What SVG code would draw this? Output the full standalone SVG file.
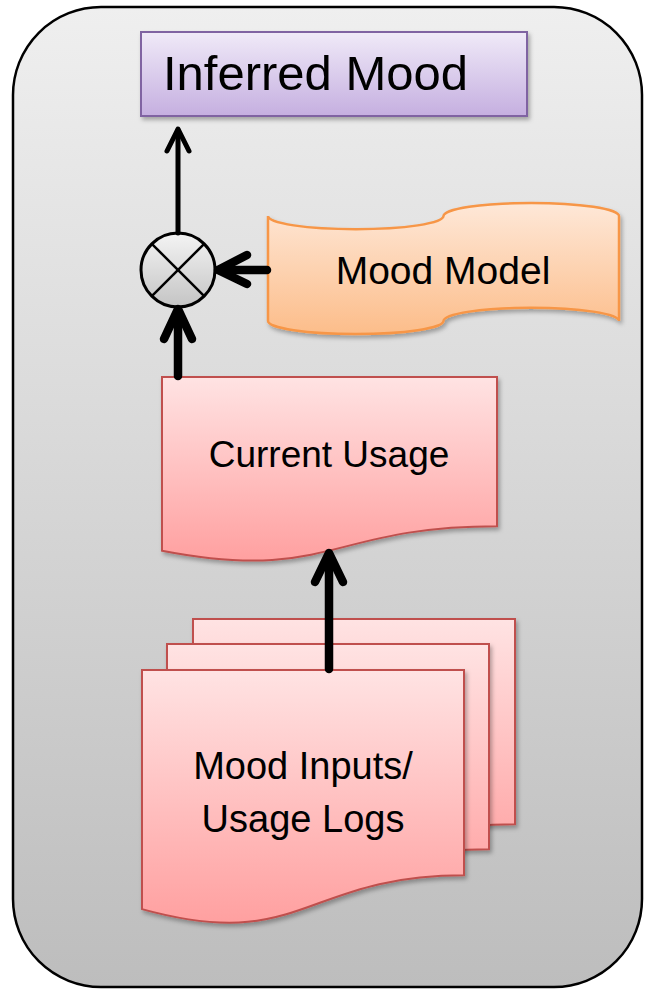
<svg xmlns="http://www.w3.org/2000/svg" width="654" height="990" viewBox="0 0 654 990">
  <style>
    .lbl { font-family: "Liberation Sans", Arial, sans-serif; fill: #000; }
    .doc { fill: url(#gPink); stroke: #c0504d; stroke-width: 2; }
    .thin { stroke: #000; stroke-width: 5; fill: none; stroke-linecap: round; stroke-linejoin: round; }
    .thick { stroke: #000; stroke-width: 8.5; fill: none; stroke-linecap: round; stroke-linejoin: round; }
  </style>
  <defs>
    <linearGradient id="gBg" x1="0" y1="0" x2="0" y2="1">
      <stop offset="0" stop-color="#efefef"/>
      <stop offset="1" stop-color="#bdbdbd"/>
    </linearGradient>
    <linearGradient id="gPurple" x1="0" y1="0" x2="0" y2="1">
      <stop offset="0" stop-color="#f0eaf8"/>
      <stop offset="1" stop-color="#c5afe0"/>
    </linearGradient>
    <linearGradient id="gOrange" x1="0" y1="0" x2="0" y2="1">
      <stop offset="0" stop-color="#fee8d8"/>
      <stop offset="1" stop-color="#fcbd8a"/>
    </linearGradient>
    <linearGradient id="gPink" x1="0" y1="0" x2="0" y2="1">
      <stop offset="0" stop-color="#ffe3e3"/>
      <stop offset="1" stop-color="#ffa0a0"/>
    </linearGradient>
    <linearGradient id="gGray" x1="0" y1="0" x2="0" y2="1">
      <stop offset="0" stop-color="#f4f4f4"/>
      <stop offset="1" stop-color="#c4c4c4"/>
    </linearGradient>
    <filter id="sh" x="-10%" y="-10%" width="130%" height="130%">
      <feDropShadow dx="2" dy="3" stdDeviation="2" flood-color="#000" flood-opacity="0.3"/>
    </filter>
  </defs>

  <g id="container">
    <rect x="13" y="7" width="629" height="980" rx="88" ry="88" fill="url(#gBg)" stroke="#000" stroke-width="2.5"/>
  </g>

  <g id="inferred-mood">
    <rect x="141" y="32" width="386" height="84" fill="url(#gPurple)" stroke="#8064a2" stroke-width="2" filter="url(#sh)"/>
    <text class="lbl" x="163" y="90" font-size="49">Inferred Mood</text>
  </g>

  <g id="combine">
    <circle cx="178" cy="270" r="37" fill="url(#gGray)" stroke="#000" stroke-width="3"/>
    <line x1="151.8" y1="243.8" x2="204.2" y2="296.2" stroke="#000" stroke-width="2.5"/>
    <line x1="204.2" y1="243.8" x2="151.8" y2="296.2" stroke="#000" stroke-width="2.5"/>
  </g>

  <g id="mood-model">
    <path d="M268,216.1 A87.75,13.1 0 0 0 443.5,216.1 A87.75,13.1 0 0 1 619,216.1 L619,320.9 A87.75,13.1 0 0 0 443.5,320.9 A87.75,13.1 0 0 1 268,320.9 Z" fill="url(#gOrange)" stroke="#f79646" stroke-width="2.5" filter="url(#sh)"/>
    <text class="lbl" x="443" y="284" font-size="39" text-anchor="middle">Mood Model</text>
  </g>

  <g id="current-usage">
    <path class="doc" d="M162,377 H497 V526.2 C329.5,526.2 329.5,583 162,550.7 Z" filter="url(#sh)"/>
    <text class="lbl" x="329" y="467" font-size="37" text-anchor="middle">Current Usage</text>
  </g>

  <g id="mood-inputs">
    <path class="doc" d="M193,619 H515 V824.3 C354,824.3 354,902.5 193,858.1 Z" filter="url(#sh)"/>
    <path class="doc" d="M167,644 H489 V849.3 C328,849.3 328,927.5 167,883.1 Z" filter="url(#sh)"/>
    <path class="doc" d="M142,670 H464 V875.3 C303,875.3 303,953.5 142,909.1 Z" filter="url(#sh)"/>
    <text class="lbl" x="303" y="779" font-size="38" text-anchor="middle">Mood Inputs/</text>
    <text class="lbl" x="303" y="832" font-size="38" text-anchor="middle">Usage Logs</text>
  </g>

  <g id="connectors">
    <line class="thin" x1="178" y1="233" x2="178" y2="130"/>
    <polyline class="thin" points="167,151 178,129 189,151"/>
    <line class="thick" x1="267" y1="270" x2="219" y2="270"/>
    <polyline class="thick" points="247,255 218,270 247,284"/>
    <line class="thick" x1="178" y1="376" x2="178" y2="310"/>
    <polyline class="thick" points="164,339 178,309 192,339"/>
    <line class="thick" x1="329" y1="669" x2="329" y2="555"/>
    <polyline class="thick" points="315,582 329,553 343,582"/>
  </g>
</svg>
